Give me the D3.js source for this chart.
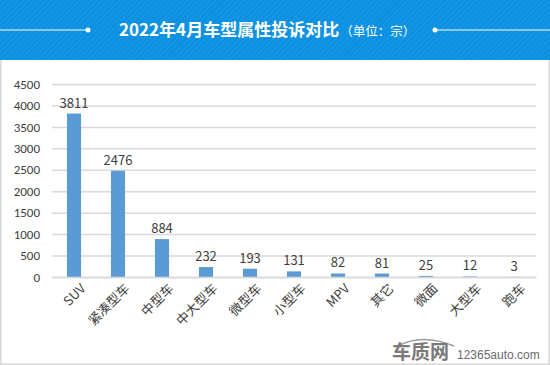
<!DOCTYPE html>
<html>
<head>
<meta charset="utf-8">
<script src="https://d3js.org/d3.v7.min.js"></script>
<style>
body { margin: 0; background: #fff; }
text { font-family: "Microsoft YaHei", "Noto Sans CJK SC", sans-serif; }
</style>
</head>
<body>
<div id="chart"></div>
<script>
// data
var categories = ["SUV", "紧凑型车", "中型车", "中大型车", "微型车", "小型车", "MPV", "其它", "微面", "大型车", "跑车"];
var complaints = [3811, 2476, 884, 232, 193, 131, 82, 81, 25, 12, 3];
var yTicks = [0, 500, 1000, 1500, 2000, 2500, 3000, 3500, 4000, 4500];

var W = 550, H = 365;
var margin = { top: 84, right: 14, bottom: 88, left: 52 };

var svg = d3.select("#chart").append("svg")
  .attr("width", W)
  .attr("height", H);

// striped header
var defs = svg.append("defs");
var pat = defs.append("pattern")
  .attr("id", "stripes")
  .attr("width", 4).attr("height", 4)
  .attr("patternUnits", "userSpaceOnUse")
  .attr("patternTransform", "rotate(45)");
pat.append("rect").attr("width", 4).attr("height", 4).attr("fill", "#0b8fe0");
pat.append("rect").attr("width", 1.5).attr("height", 4).attr("fill", "#1797e4");

// panel border
svg.append("rect")
  .attr("x", 0.75).attr("y", 0.75)
  .attr("width", W - 1.5).attr("height", H - 1.5)
  .attr("fill", "#fff")
  .attr("stroke", "#d6d6d6")
  .attr("stroke-width", 1.5);

svg.append("rect")
  .attr("x", 0).attr("y", 0)
  .attr("width", W).attr("height", 60)
  .attr("fill", "url(#stripes)");

// header lines + dots
svg.append("line").attr("x1", 0).attr("x2", 88).attr("y1", 30).attr("y2", 30)
  .attr("stroke", "#fff").attr("stroke-width", 1);
svg.append("circle").attr("cx", 88).attr("cy", 30).attr("r", 2.5).attr("fill", "#fff");
svg.append("line").attr("x1", 435).attr("x2", W).attr("y1", 30).attr("y2", 30)
  .attr("stroke", "#fff").attr("stroke-width", 1);
svg.append("circle").attr("cx", 435).attr("cy", 30).attr("r", 2.5).attr("fill", "#fff");

var title = svg.append("text")
  .attr("x", 119).attr("y", 36)
  .attr("fill", "#fff");
title.append("tspan")
  .attr("font-size", "17px")
  .attr("font-weight", "bold")
  .text("2022年4月车型属性投诉对比");
title.append("tspan")
  .attr("font-size", "12.5px")
  .attr("dx", 1)
  .text("（单位：宗）");

var w = W - margin.left - margin.right;
var h = H - margin.top - margin.bottom;

var g = svg.append("g")
  .attr("transform", "translate(" + margin.left + "," + margin.top + ")");

var xScale = d3.scaleBand()
  .domain(categories)
  .range([0, w])
  .paddingInner(0.68)
  .paddingOuter(0.34);

var yScale = d3.scaleLinear()
  .domain([0, 4500])
  .range([h, 0]);

// gridlines + y labels
var yAxis = d3.axisLeft(yScale)
  .tickValues(yTicks)
  .tickFormat(d3.format("d"))
  .tickSize(-w)
  .tickPadding(12);

g.append("g")
  .attr("class", "y axis")
  .call(yAxis)
  .call(function (s) {
    s.select(".domain").remove();
    s.selectAll(".tick line").attr("stroke", "#d9d9d9").attr("stroke-width", 1.5);
    s.selectAll(".tick text")
      .attr("fill", "#404040")
      .attr("font-size", "13px")
      .style("font-family", "Calibri, Carlito, 'Liberation Sans', sans-serif");
  });

// bars
g.selectAll("rect.bar").data(complaints)
  .enter()
  .append("rect")
  .attr("class", "bar")
  .attr("x", function (d, i) { return xScale(categories[i]); })
  .attr("y", function (d) { return yScale(d); })
  .attr("width", xScale.bandwidth())
  .attr("height", function (d) { return h - yScale(d); })
  .attr("fill", "#5b9bd5");

// value labels
g.selectAll("text.val").data(complaints)
  .enter()
  .append("text")
  .attr("class", "val")
  .attr("x", function (d, i) { return xScale(categories[i]) + xScale.bandwidth() / 2; })
  .attr("y", function (d) { return yScale(d) - 6; })
  .attr("text-anchor", "middle")
  .attr("fill", "#404040")
  .attr("font-size", "13px")
  .text(function (d) { return d; });

// x axis
var xAxis = d3.axisBottom(xScale).tickSize(0).tickPadding(8);
g.append("g")
  .attr("class", "x axis")
  .attr("transform", "translate(0," + h + ")")
  .call(xAxis)
  .call(function (s) {
    s.select(".domain").attr("stroke", "#d9d9d9").attr("stroke-width", 1.5);
    s.selectAll(".tick text")
      .attr("fill", "#404040")
      .attr("font-size", "13px")
      .attr("text-anchor", "end")
      .attr("dy", "0.3em")
      .attr("transform", "translate(4,4) rotate(-45)");
  });

// logo
var logo = svg.append("g").attr("transform", "translate(392,359)");
logo.append("path")
  .attr("d", "M6,-13 Q30,-26 62,-13")
  .attr("fill", "none")
  .attr("stroke", "#9a9a9a")
  .attr("stroke-width", 1.5);
logo.append("text")
  .attr("x", 0).attr("y", 0)
  .attr("fill", "#7a7a7a")
  .attr("font-size", "19px")
  .attr("font-weight", "bold")
  .text("车质网");
logo.append("text")
  .attr("x", 65).attr("y", 0)
  .attr("fill", "#6a6a6a")
  .attr("font-size", "12px")
  .style("font-family", "'Liberation Sans', Arial, sans-serif")
  .text("12365auto.com");
</script>
</body>
</html>
